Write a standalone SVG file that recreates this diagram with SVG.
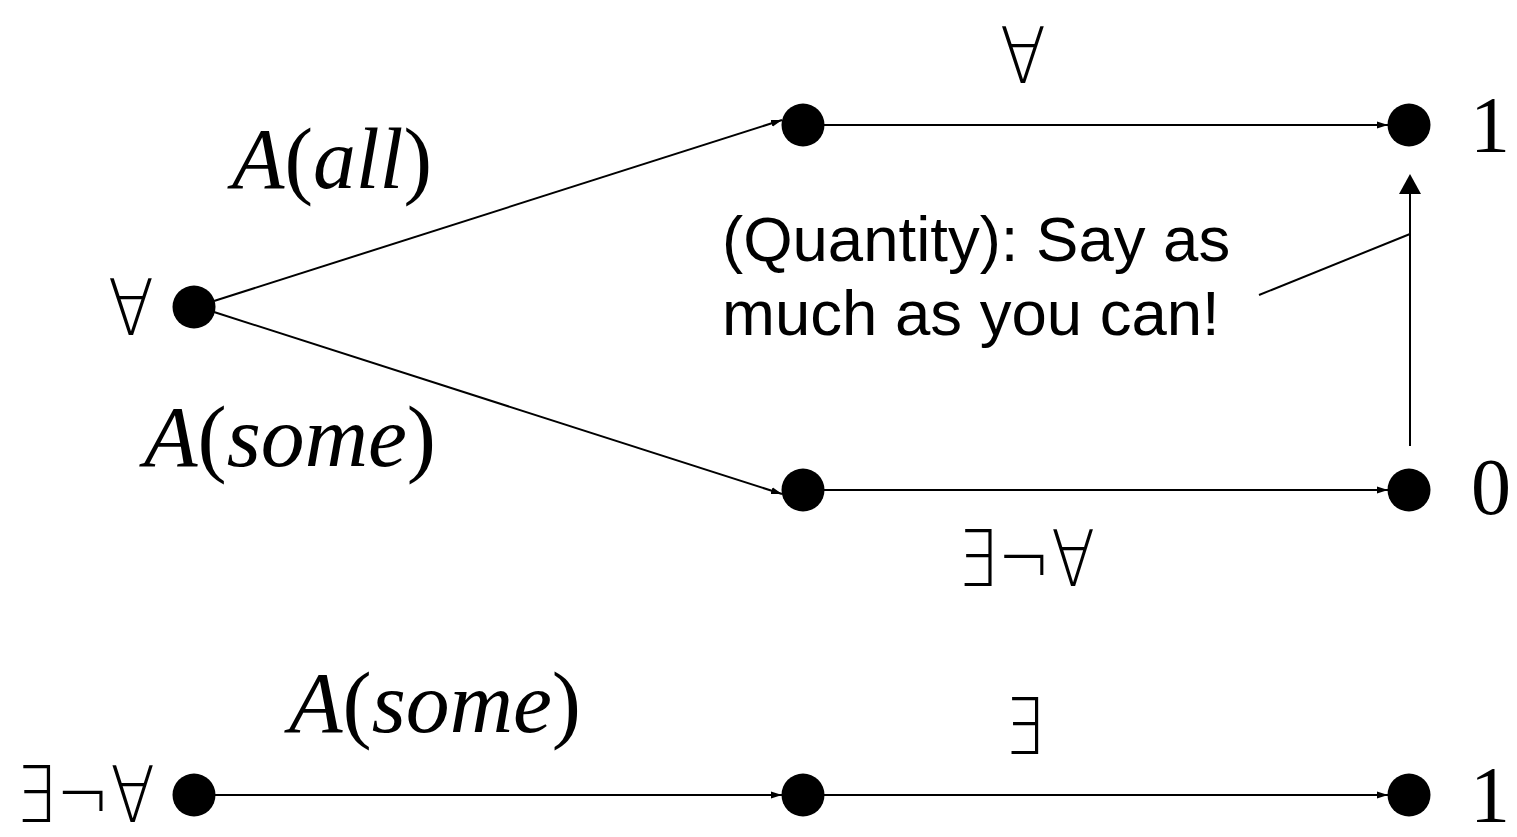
<svg xmlns="http://www.w3.org/2000/svg" width="1517" height="837" viewBox="0 0 1517 837">
<style>
.node{fill:#000}
.edge{stroke:#000;stroke-width:2;fill:none}
.sym{font-family:"DejaVu Sans",sans-serif;font-weight:200;fill:#000}
.math{font-family:"Liberation Serif",serif;fill:#000}
.it{font-style:italic}
.note{font-family:"Liberation Sans",Arial,sans-serif;fill:#000}
</style>
<defs>
<marker id="sm" markerUnits="userSpaceOnUse" markerWidth="12" markerHeight="8" refX="11" refY="4" orient="auto">
<path d="M0,0.5 L11,4 L0,7.5 z" fill="#000"/>
</marker>
<marker id="big" markerUnits="userSpaceOnUse" markerWidth="22" markerHeight="22" refX="0" refY="11" orient="auto">
<path d="M0,0 L20,11 L0,22 z" fill="#000"/>
</marker>
</defs>
<rect width="1517" height="837" fill="#fff"/>
<g id="connectors">
<line class="edge" x1="214" y1="301" x2="782" y2="120" marker-end="url(#sm)"/>
<line class="edge" x1="214" y1="312" x2="782" y2="494" marker-end="url(#sm)"/>
<line class="edge" x1="823" y1="125" x2="1388" y2="125" marker-end="url(#sm)"/>
<line class="edge" x1="823" y1="490" x2="1388" y2="490" marker-end="url(#sm)"/>
<line class="edge" x1="215" y1="795" x2="782" y2="795" marker-end="url(#sm)"/>
<line class="edge" x1="823" y1="795" x2="1388" y2="795" marker-end="url(#sm)"/>
<line class="edge" x1="1410" y1="446" x2="1410" y2="194" marker-end="url(#big)"/>
<line class="edge" x1="1259" y1="295" x2="1410" y2="234"/>
</g>
<g id="n-root"><circle class="node" cx="194" cy="307" r="21.5"/><text class="sym" x="108" y="335" font-size="78" textLength="46" lengthAdjust="spacingAndGlyphs">∀</text></g>
<g id="n-all"><circle class="node" cx="803" cy="125" r="21.5"/></g>
<g id="n-one"><circle class="node" cx="1409" cy="125" r="21.5"/><text class="math" x="1470" y="152" font-size="80">1</text></g>
<g id="n-some"><circle class="node" cx="803" cy="490" r="21.5"/></g>
<g id="n-zero"><circle class="node" cx="1409" cy="490" r="21.5"/><text class="math" x="1471" y="514" font-size="80">0</text></g>
<g id="n-r3a"><circle class="node" cx="194" cy="795" r="21.5"/><text class="sym" x="15" y="822" font-size="78" textLength="140" lengthAdjust="spacingAndGlyphs">∃¬∀</text></g>
<g id="n-r3b"><circle class="node" cx="803" cy="795" r="21.5"/></g>
<g id="n-r3c"><circle class="node" cx="1409" cy="795" r="21.5"/><text class="math" x="1470" y="822" font-size="80">1</text></g>
<g id="labels">
<text class="sym" x="1000" y="83" font-size="78" textLength="46" lengthAdjust="spacingAndGlyphs">∀</text>
<text class="math" x="232" y="188" font-size="86" textLength="200" lengthAdjust="spacingAndGlyphs"><tspan class="it">A</tspan>(<tspan class="it">all</tspan>)</text>
<text class="math" x="144" y="466" font-size="86" textLength="292" lengthAdjust="spacingAndGlyphs"><tspan class="it">A</tspan>(<tspan class="it">some</tspan>)</text>
<text class="sym" x="957" y="586" font-size="78" textLength="138" lengthAdjust="spacingAndGlyphs">∃¬∀</text>
<text class="math" x="289" y="732" font-size="86" textLength="292" lengthAdjust="spacingAndGlyphs"><tspan class="it">A</tspan>(<tspan class="it">some</tspan>)</text>
<text class="sym" x="1004" y="754" font-size="78" textLength="40" lengthAdjust="spacingAndGlyphs">∃</text>
<text class="note" x="722" y="261" font-size="63.5">(Quantity): Say as</text>
<text class="note" x="722" y="335" font-size="63.5">much as you can!</text>
</g>
</svg>
